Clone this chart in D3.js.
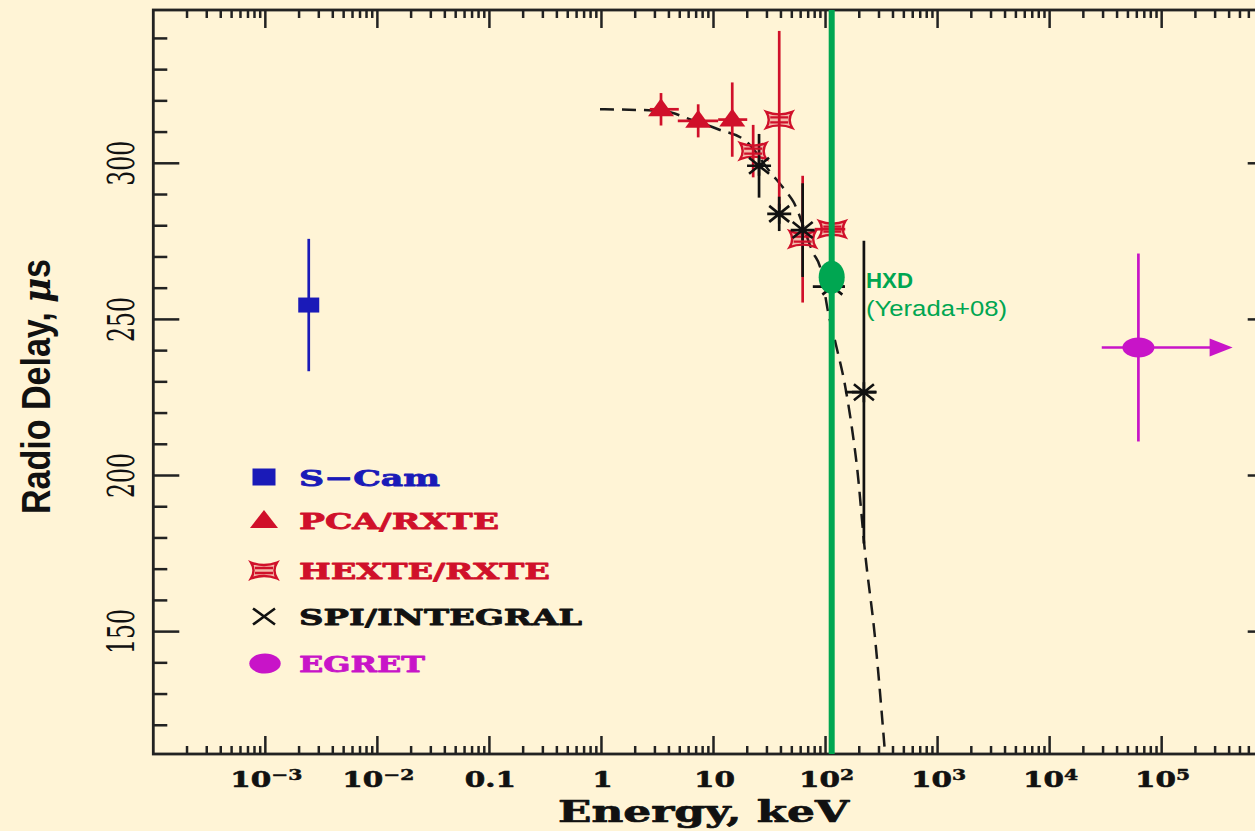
<!DOCTYPE html>
<html><head><meta charset="utf-8">
<script src="https://cdn.jsdelivr.net/npm/d3@7"></script>
<style>html,body{margin:0;padding:0;background:#fff4d6;} svg{display:block}</style>
</head><body>
<svg id="c" width="1255" height="831"></svg>
<script>
// ---------------- DATA ----------------
// S-Cam
const scamE = [2.44e-3];
const scamV = [254.6];
const scamErr = [21.2];
// PCA / RXTE
const pcaE = [3.4, 7.3, 14.7];
const pcaV = [317.3, 313.6, 314.0];
const pcaErr = [5.2, 5.3, 11.9];
const pcaElo = [2.7, 4.8, 11];
const pcaEhi = [4.9, 11, 20];
// HEXTE / RXTE
const hexteE = [22.6, 38.6, 62.5, 115];
const hexteV = [303.9, 313.9, 275.7, 278.9];
const hexteErr = [8.4, 28.5, 20.3, 2];
const hexteElo = [22.6, 38.6, 62.5, 80];
const hexteEhi = [22.6, 38.6, 62.5, 150];
// SPI / INTEGRAL
const spiE = [25.5, 38.6, 62.5, 115, 220];
const spiV = [299.2, 283.8, 278.6, 260.5, 226.7];
const spiErr = [10.2, 5.5, 15, 3, 48.5];
const spiElo = [25.5, 38.6, 62.5, 77, 149];
const spiEhi = [25.5, 38.6, 62.5, 149, 286];
// EGRET (lower limit in energy)
const egretE = [6.2e4];
const egretV = [241.0];
const egretErr = [30.1];
const egretElo = [2.92e4];
const egretArrowTo = [4.3e5];
// HXD (Yerada+08)
const hxdE = [113.5];
const hxdV = [263.5];
// dashed model curve
const curveE = [0.97, 3.45, 6.4, 11.0, 19.8, 31.9, 43.5, 51.6, 77.8, 89.2, 105.9, 124, 149, 172, 191, 225, 276, 340];
const curveV = [317.3, 316.8, 313.9, 310.9, 306.9, 297.3, 291.4, 287.7, 271.2, 266.9, 252.0, 241.8, 229.0, 215.2, 202.7, 175.5, 148.3, 110.8];
// tick labels
const xTickVals = [1e-3, 1e-2, 0.1, 1, 10, 100, 1e3, 1e4, 1e5];
const xTickBase = ["10", "10", "0.1", "1", "10", "10", "10", "10", "10"];
const xTickExp  = ["\u22123", "\u22122", "", "", "", "2", "3", "4", "5"];
const yTickVals = [150, 200, 250, 300];
const yTickLabels = ["150", "200", "250", "300"];
const legendLabels = ["S\u2212Cam", "PCA/RXTE", "HEXTE/RXTE", "SPI/INTEGRAL", "EGRET"];

// ---------------- STYLE ----------------
const C = {bg:"#fff4d6", axis:"#222", blue:"#1a1ab8", red:"#d0102a", black:"#111",
           mag:"#c814c8", green:"#00a651"};
const serif = "'DejaVu Serif', serif";
const sans = "'Liberation Sans', Arial, sans-serif";

const svg = d3.select("#c");
svg.append("rect").attr("width",1255).attr("height",831).attr("fill",C.bg);

const x = d3.scaleLog().domain([1e-4, 1e6]).range([153.3, 1273.7]);
const y = d3.scaleLinear().domain([110.8, 349.1]).range([754, 10]);
const [xL, xR] = x.range();
const [yB, yT] = y.range();

function fit(sel, len){ sel.attr("textLength", len).attr("lengthAdjust","spacingAndGlyphs"); return sel; }
function heavy(sel, col, w){ sel.attr("stroke", col).attr("stroke-width", w).attr("stroke-linejoin","round"); return sel; }

// ---------------- AXES ----------------
const ax = svg.append("g").attr("stroke", C.axis).attr("stroke-width", 2.5).attr("fill","none");
const isMajor = v => Math.abs(Math.log10(v) - Math.round(Math.log10(v))) < 1e-9;
x.ticks(60).forEach(v => {
  const px = x(v);
  if (px <= xL + 1 || px >= xR - 1) return;
  const L = isMajor(v) ? 18 : 8;
  ax.append("line").attr("x1",px).attr("x2",px).attr("y1",yB).attr("y2",yB-L);
  ax.append("line").attr("x1",px).attr("x2",px).attr("y1",yT).attr("y2",yT+L);
});
d3.range(120, 350, 10).forEach(v => {
  const py = y(v);
  const L = (v % 50 === 0) ? 26 : 14;
  ax.append("line").attr("x1",xL).attr("x2",xL+L).attr("y1",py).attr("y2",py);
  ax.append("line").attr("x1",xR).attr("x2",xR-L).attr("y1",py).attr("y2",py);
});
svg.append("rect").attr("x",xL).attr("y",yT).attr("width",xR-xL).attr("height",yB-yT)
  .attr("fill","none").attr("stroke",C.axis).attr("stroke-width",2.8);

// x tick labels
const xl = svg.append("g").attr("fill", C.black).attr("font-family", serif).attr("font-weight","bold");
xTickVals.forEach((v,i) => {
  const b = heavy(xl.append("text").attr("font-size",23).attr("y",787.3).text(xTickBase[i]), C.black, 0.6);
  const bw = b.node().getComputedTextLength()*1.28;
  fit(b, bw);
  let ew = 0, e = null;
  if (xTickExp[i]) {
    e = heavy(xl.append("text").attr("font-size",15).attr("y",779.5).text(xTickExp[i]), C.black, 0.5);
    ew = e.node().getComputedTextLength()*1.35;
    fit(e, ew);
  }
  const start = x(v) + 1 - (bw + ew)/2;
  b.attr("x", start);
  if (e) e.attr("x", start + bw);
});

// y tick labels (rotated)
const yl = svg.append("g").attr("fill", C.black).attr("font-family", serif);
yTickVals.forEach((v,i) => {
  const t = yl.append("text").attr("font-size",38).attr("text-anchor","middle")
    .attr("transform",`translate(134,${y(v)}) rotate(-90)`).text(yTickLabels[i]);
  fit(t, 45);
});

// axis titles
heavy(fit(svg.append("text").attr("x",703.5).attr("y",821.7).attr("text-anchor","middle")
  .attr("font-family",serif).attr("font-weight","bold").attr("font-size",29).attr("fill",C.black)
  .text("Energy, keV"), 291), C.black, 0.7);
const yt = svg.append("text").attr("text-anchor","middle")
  .attr("transform","translate(50,386.5) rotate(-90)")
  .attr("font-family",sans).attr("font-weight","bold").attr("font-size",40).attr("fill",C.black);
yt.append("tspan").text("Radio Delay, ");
yt.append("tspan").attr("font-family",serif).attr("font-style","italic").attr("font-weight","bold").text("\u03bc");
yt.append("tspan").text("s");
fit(yt, 255);

// ---------------- MODEL CURVE ----------------
const line = d3.line().x(d => x(d[0])).y(d => y(d[1])).curve(d3.curveMonotoneX);
svg.append("path").datum(d3.zip(curveE, curveV)).attr("d", line)
  .attr("fill","none").attr("stroke","#1a1a1a").attr("stroke-width",2.5).attr("stroke-dasharray","14,8");

// ---------------- MARKER SHAPES ----------------
const triPath = "M0,-11 L13,7 L-13,7 Z";
const hexPath = "M-13,-8 Q0,-3 13,-8 Q8,0 13,8 Q0,3 -13,8 Q-8,0 -13,-8 Z M-9,-2.5 H9 M-9,2.5 H9";
const starPath = "M-12,0 H12 M0,-10 V10 M-10,-8 L10,8 M-10,8 L10,-8";
const xPath = "M-11,-8 L11,8 M-11,8 L11,-8";

function vbar(g, e, v, err, col){
  g.append("line").attr("x1",x(e)).attr("x2",x(e)).attr("y1",y(v+err)).attr("y2",y(v-err))
    .attr("stroke",col).attr("stroke-width",2.7);
}
function hbar(g, lo, hi, v, col){
  if (hi <= lo) return;
  g.append("line").attr("x1",x(lo)).attr("x2",x(hi)).attr("y1",y(v)).attr("y2",y(v))
    .attr("stroke",col).attr("stroke-width",2.7);
}

const g = svg.append("g");
// S-Cam
scamE.forEach((e,i) => {
  vbar(g, e, scamV[i], scamErr[i], C.blue);
  g.append("rect").attr("x",x(e)-10.5).attr("y",y(scamV[i])-7.5).attr("width",21).attr("height",15).attr("fill",C.blue);
});
// PCA
pcaE.forEach((e,i) => {
  vbar(g, e, pcaV[i], pcaErr[i], C.red);
  hbar(g, pcaElo[i], pcaEhi[i], pcaV[i], C.red);
});
// HEXTE bars
hexteE.forEach((e,i) => {
  vbar(g, e, hexteV[i], hexteErr[i], C.red);
  hbar(g, hexteElo[i], hexteEhi[i], hexteV[i], C.red);
});
// SPI bars
spiE.forEach((e,i) => {
  vbar(g, e, spiV[i], spiErr[i], C.black);
  hbar(g, spiElo[i], spiEhi[i], spiV[i], C.black);
});
// PCA markers
pcaE.forEach((e,i) => {
  g.append("path").attr("d",triPath).attr("transform",`translate(${x(e)},${y(pcaV[i])})`).attr("fill",C.red);
});
// HEXTE markers
hexteE.forEach((e,i) => {
  g.append("path").attr("d",hexPath).attr("transform",`translate(${x(e)},${y(hexteV[i])})`)
    .attr("fill","rgba(208,16,42,0.25)").attr("stroke",C.red).attr("stroke-width",2.4);
});
// SPI markers
spiE.forEach((e,i) => {
  g.append("path").attr("d",starPath).attr("transform",`translate(${x(e)},${y(spiV[i])})`)
    .attr("fill","none").attr("stroke",C.black).attr("stroke-width",2.6);
});
// EGRET
egretE.forEach((e,i) => {
  vbar(g, e, egretV[i], egretErr[i], C.mag);
  const tip = x(egretArrowTo[i]), py = y(egretV[i]);
  g.append("line").attr("x1",x(egretElo[i])).attr("x2",tip-20).attr("y1",py).attr("y2",py)
    .attr("stroke",C.mag).attr("stroke-width",2.6);
  g.append("path").attr("d",`M${tip},${py} L${tip-23},${py-9} L${tip-23},${py+9} Z`).attr("fill",C.mag);
  g.append("ellipse").attr("cx",x(e)).attr("cy",py).attr("rx",16).attr("ry",10).attr("fill",C.mag);
});
// HXD
hxdE.forEach((e,i) => {
  g.append("line").attr("x1",x(e)).attr("x2",x(e)).attr("y1",yT).attr("y2",yB)
    .attr("stroke",C.green).attr("stroke-width",6);
  g.append("ellipse").attr("cx",x(e)).attr("cy",y(hxdV[i])).attr("rx",13).attr("ry",16.5).attr("fill",C.green);
});
fit(svg.append("text").attr("x",866).attr("y",288).attr("font-family",sans).attr("font-weight","bold")
  .attr("font-size",22).attr("fill",C.green).text("HXD"), 47);
fit(svg.append("text").attr("x",866).attr("y",316).attr("font-family",sans)
  .attr("font-size",22).attr("fill",C.green).text("(Yerada+08)"), 141);

// ---------------- LEGEND ----------------
const legCY = [477, 520, 570.5, 616.5, 663.5];
const legCol = [C.blue, C.red, C.red, C.black, C.mag];
const legW = [141, 200, 251, 283, 126];
const lg = svg.append("g");
legendLabels.forEach((lab,i) => {
  const cy = legCY[i], cx = 264;
  if (i === 0) lg.append("rect").attr("x",cx-11.5).attr("y",cy-8.5).attr("width",23).attr("height",17).attr("fill",C.blue);
  if (i === 1) lg.append("path").attr("d","M0,-10 L14,8 L-14,8 Z").attr("transform",`translate(${cx},${cy})`).attr("fill",C.red);
  if (i === 2) lg.append("path").attr("d",hexPath).attr("transform",`translate(${cx},${cy})`)
      .attr("fill","rgba(208,16,42,0.25)").attr("stroke",C.red).attr("stroke-width",2.4);
  if (i === 3) lg.append("path").attr("d",xPath).attr("transform",`translate(${cx},${cy})`)
      .attr("fill","none").attr("stroke",C.black).attr("stroke-width",2.6);
  if (i === 4) lg.append("ellipse").attr("cx",cx+1).attr("cy",cy).attr("rx",15.7).attr("ry",10).attr("fill",C.mag);
  heavy(fit(lg.append("text").attr("x",299).attr("y",cy+8.5).attr("font-family",serif).attr("font-weight","bold")
    .attr("font-size",23).attr("fill",legCol[i]).text(lab), legW[i]), legCol[i], 0.8);
});
</script>
</body></html>
